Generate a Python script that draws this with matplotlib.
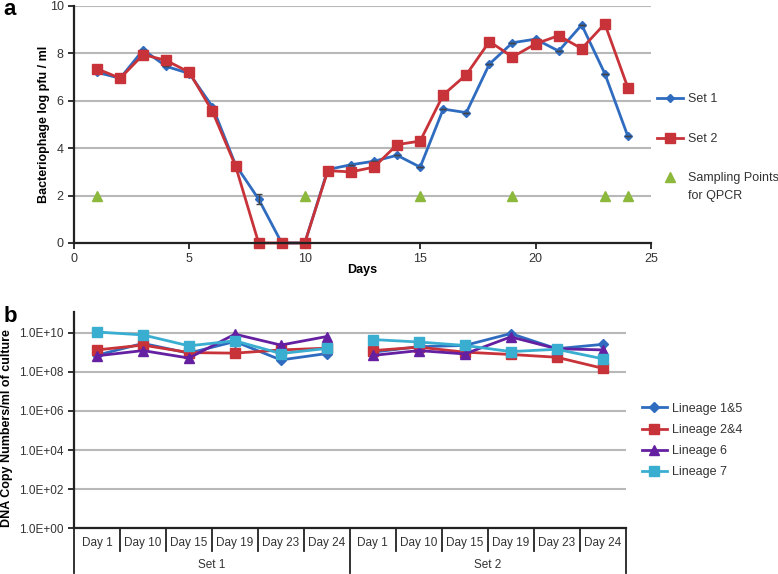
#!/usr/bin/env python3
"""Phage titre time course (a) and qPCR copy numbers per lineage (b)."""

import matplotlib
matplotlib.use("Agg")
import matplotlib.pyplot as plt
from matplotlib.ticker import FixedLocator, NullLocator

# ---- panel a data -------------------------------------------------------
days = list(range(1, 25))
set1_titre = [7.2, 6.95, 8.15, 7.45, 7.15, 5.75, 3.3, 1.85, 0, 0, 3.1, 3.3,
              3.45, 3.7, 3.2, 5.65, 5.5, 7.55, 8.45, 8.6, 8.1, 9.2, 7.15, 4.5]
set1_err = [0, 0, 0, 0, 0, 0, 0, 0.2, 0, 0, 0, 0,
            0, 0, 0, 0, 0, 0, 0, 0, 0, 0, 0, 0]
set2_titre = [7.35, 6.95, 7.95, 7.7, 7.2, 5.55, 3.25, 0, 0, 0, 3.05, 3.0,
              3.2, 4.15, 4.3, 6.25, 7.1, 8.5, 7.85, 8.4, 8.75, 8.2, 9.25, 6.55]
sampling_days = [1, 10, 15, 19, 23, 24]
sampling_level = [2, 2, 2, 2, 2, 2]

# ---- panel b data -------------------------------------------------------
qpcr_days = ["Day 1", "Day 10", "Day 15", "Day 19", "Day 23", "Day 24"]
set_names = ["Set 1", "Set 2"]
lineage_names = ["Lineage 1&5", "Lineage 2&4", "Lineage 6", "Lineage 7"]
lineage_1_5 = [[7.0e8, 2.8e9, 8.9e8, 3.5e9, 4.0e8, 8.5e8],
               [1.0e9, 1.9e9, 2.2e9, 8.9e9, 1.5e9, 2.5e9]]
lineage_2_4 = [[1.3e9, 2.3e9, 9.5e8, 8.9e8, 1.3e9, 1.6e9],
               [1.2e9, 1.8e9, 1.0e9, 7.6e8, 5.5e8, 1.5e8]]
lineage_6 = [[6.5e8, 1.2e9, 5.0e8, 8.3e9, 2.3e9, 6.3e9],
             [6.8e8, 1.2e9, 8.1e8, 6.0e9, 1.5e9, 1.3e9]]
lineage_7 = [[1.07e10, 7.6e9, 2.1e9, 3.8e9, 8.5e8, 1.55e9],
             [4.4e9, 3.3e9, 2.2e9, 1.07e9, 1.4e9, 4.6e8]]
log_ticks = [1e0, 1e2, 1e4, 1e6, 1e8, 1e10]
log_tick_labels = ["1.0E+00", "1.0E+02", "1.0E+04", "1.0E+06", "1.0E+08", "1.0E+10"]

BLUE = "#2f6cc0"
RED = "#c8333a"
PURPLE = "#6420a0"
CYAN = "#3aaed0"
GREEN = "#8cb83c"
GRID = "#b8b8b8"
TEXT = "#333333"

plt.rcParams["font.family"] = ["Liberation Sans", "DejaVu Sans"]

fig = plt.figure(figsize=(7.78, 5.74), dpi=100)


def style_axes(ax):
    for side in ("top", "right"):
        ax.spines[side].set_visible(False)
    for side in ("left", "bottom"):
        ax.spines[side].set_linewidth(1.6)
        ax.spines[side].set_color("#222222")
    ax.yaxis.grid(True, color=GRID, linewidth=1.5)
    ax.set_axisbelow(True)
    ax.tick_params(colors="#222222", labelcolor=TEXT, labelsize=9, width=1.3, length=4)


# ---- panel a ------------------------------------------------------------
ax_a = fig.add_axes([0.0951, 0.5767, 0.7416, 0.4129])
style_axes(ax_a)
set1_line, = ax_a.plot(days, set1_titre, color=BLUE, marker="D", markersize=4.5,
                       linewidth=2, label="Set 1")
ax_a.errorbar(days, set1_titre, yerr=set1_err, fmt="none", capsize=2.5,
              elinewidth=1, ecolor="#444444")
set2_line, = ax_a.plot(days, set2_titre, color=RED, marker="s", markersize=7,
                       linewidth=2, label="Set 2")
samp_line, = ax_a.plot(sampling_days, sampling_level, linestyle="none", marker="^",
                       markersize=7, color=GREEN, label="Sampling Points")
ax_a.set_xlim(0, 25)
ax_a.set_ylim(0, 10)
ax_a.set_xticks([0, 5, 10, 15, 20, 25])
ax_a.set_yticks([0, 2, 4, 6, 8, 10])
ax_a.set_xlabel("Days", fontsize=9, fontweight="bold", va="center")
ax_a.xaxis.set_label_coords(0.50, -0.115)
ax_a.set_ylabel("Bacteriophage log pfu / ml", fontsize=9, fontweight="bold", va="center")
ax_a.yaxis.set_label_coords(-0.052, 0.5)
for line in ax_a.get_lines():
    line.set_clip_on(False)
leg_a = ax_a.legend(handles=[set1_line, set2_line, samp_line], loc="center left",
                    bbox_to_anchor=(0.8445, 0.758), bbox_transform=fig.transFigure,
                    frameon=False, fontsize=9, labelspacing=2.2, handlelength=2.1,
                    handletextpad=0.4, borderpad=0, borderaxespad=0, labelcolor=TEXT)
fig.text(0.004, 0.974, "a", fontsize=16, fontweight="bold", va="baseline")

# ---- panel b ------------------------------------------------------------
ax_b = fig.add_axes([0.0951, 0.0796, 0.7091, 0.3768])
style_axes(ax_b)
ax_b.set_yscale("log")
n_days = len(qpcr_days)
styles = [(lineage_1_5, BLUE, "D", 5), (lineage_2_4, RED, "s", 6.5),
          (lineage_6, PURPLE, "^", 7), (lineage_7, CYAN, "s", 7)]
for (values, color, marker, size), name in zip(styles, lineage_names):
    for s, set_values in enumerate(values):
        xs = [s * n_days + i for i in range(n_days)]
        ax_b.plot(xs, set_values, color=color, marker=marker, markersize=size,
                  linewidth=2, label=name if s == 0 else None)
ax_b.set_xlim(-0.5, len(set_names) * n_days - 0.5)
ax_b.set_ylim(1, 10 ** 11.05)
ax_b.yaxis.set_major_locator(FixedLocator(log_ticks))
ax_b.yaxis.set_minor_locator(NullLocator())
ax_b.set_yticks(log_ticks)
ax_b.set_yticklabels(log_tick_labels)
ax_b.tick_params(axis="y", labelsize=8.5)
ax_b.set_xticks([])
ax_b.set_ylabel("DNA Copy Numbers/ml of culture", fontsize=9, fontweight="bold", va="center")
ax_b.yaxis.set_label_coords(-0.121, 0.464)

# category table under the axis
trans = ax_b.get_xaxis_transform()
for s, set_name in enumerate(set_names):
    for i, day in enumerate(qpcr_days):
        ax_b.text(s * n_days + i, -0.068, day, transform=trans, ha="center", va="center",
                  fontsize=8.5, color=TEXT)
    ax_b.text(s * n_days + (n_days - 1) / 2, -0.17, set_name, transform=trans,
              ha="center", va="center", fontsize=8.5, color=TEXT)
for k in range(len(set_names) * n_days + 1):
    depth = -0.205 if k % n_days == 0 else -0.105
    ax_b.plot([k - 0.5, k - 0.5], [0, depth], transform=trans, color="#222222",
              linewidth=1.3, clip_on=False)
ax_b.legend(loc="center left", bbox_to_anchor=(0.825, 0.2325), bbox_transform=fig.transFigure,
            frameon=False, fontsize=9, labelspacing=0.73, handlelength=2.0,
            handletextpad=0.45, borderpad=0, borderaxespad=0, labelcolor=TEXT)
fig.text(0.004, 0.439, "b", fontsize=16, fontweight="bold", va="baseline")

# second line of the sampling-points legend label, wrapped under the first
fig.canvas.draw()
samp_text = leg_a.get_texts()[2]
bbox = samp_text.get_window_extent().transformed(fig.transFigure.inverted())
fig.text(bbox.x0, bbox.y0 - 0.009, "for QPCR", fontsize=9, color=TEXT, va="top", ha="left")

fig.savefig("out.png", dpi=100)
